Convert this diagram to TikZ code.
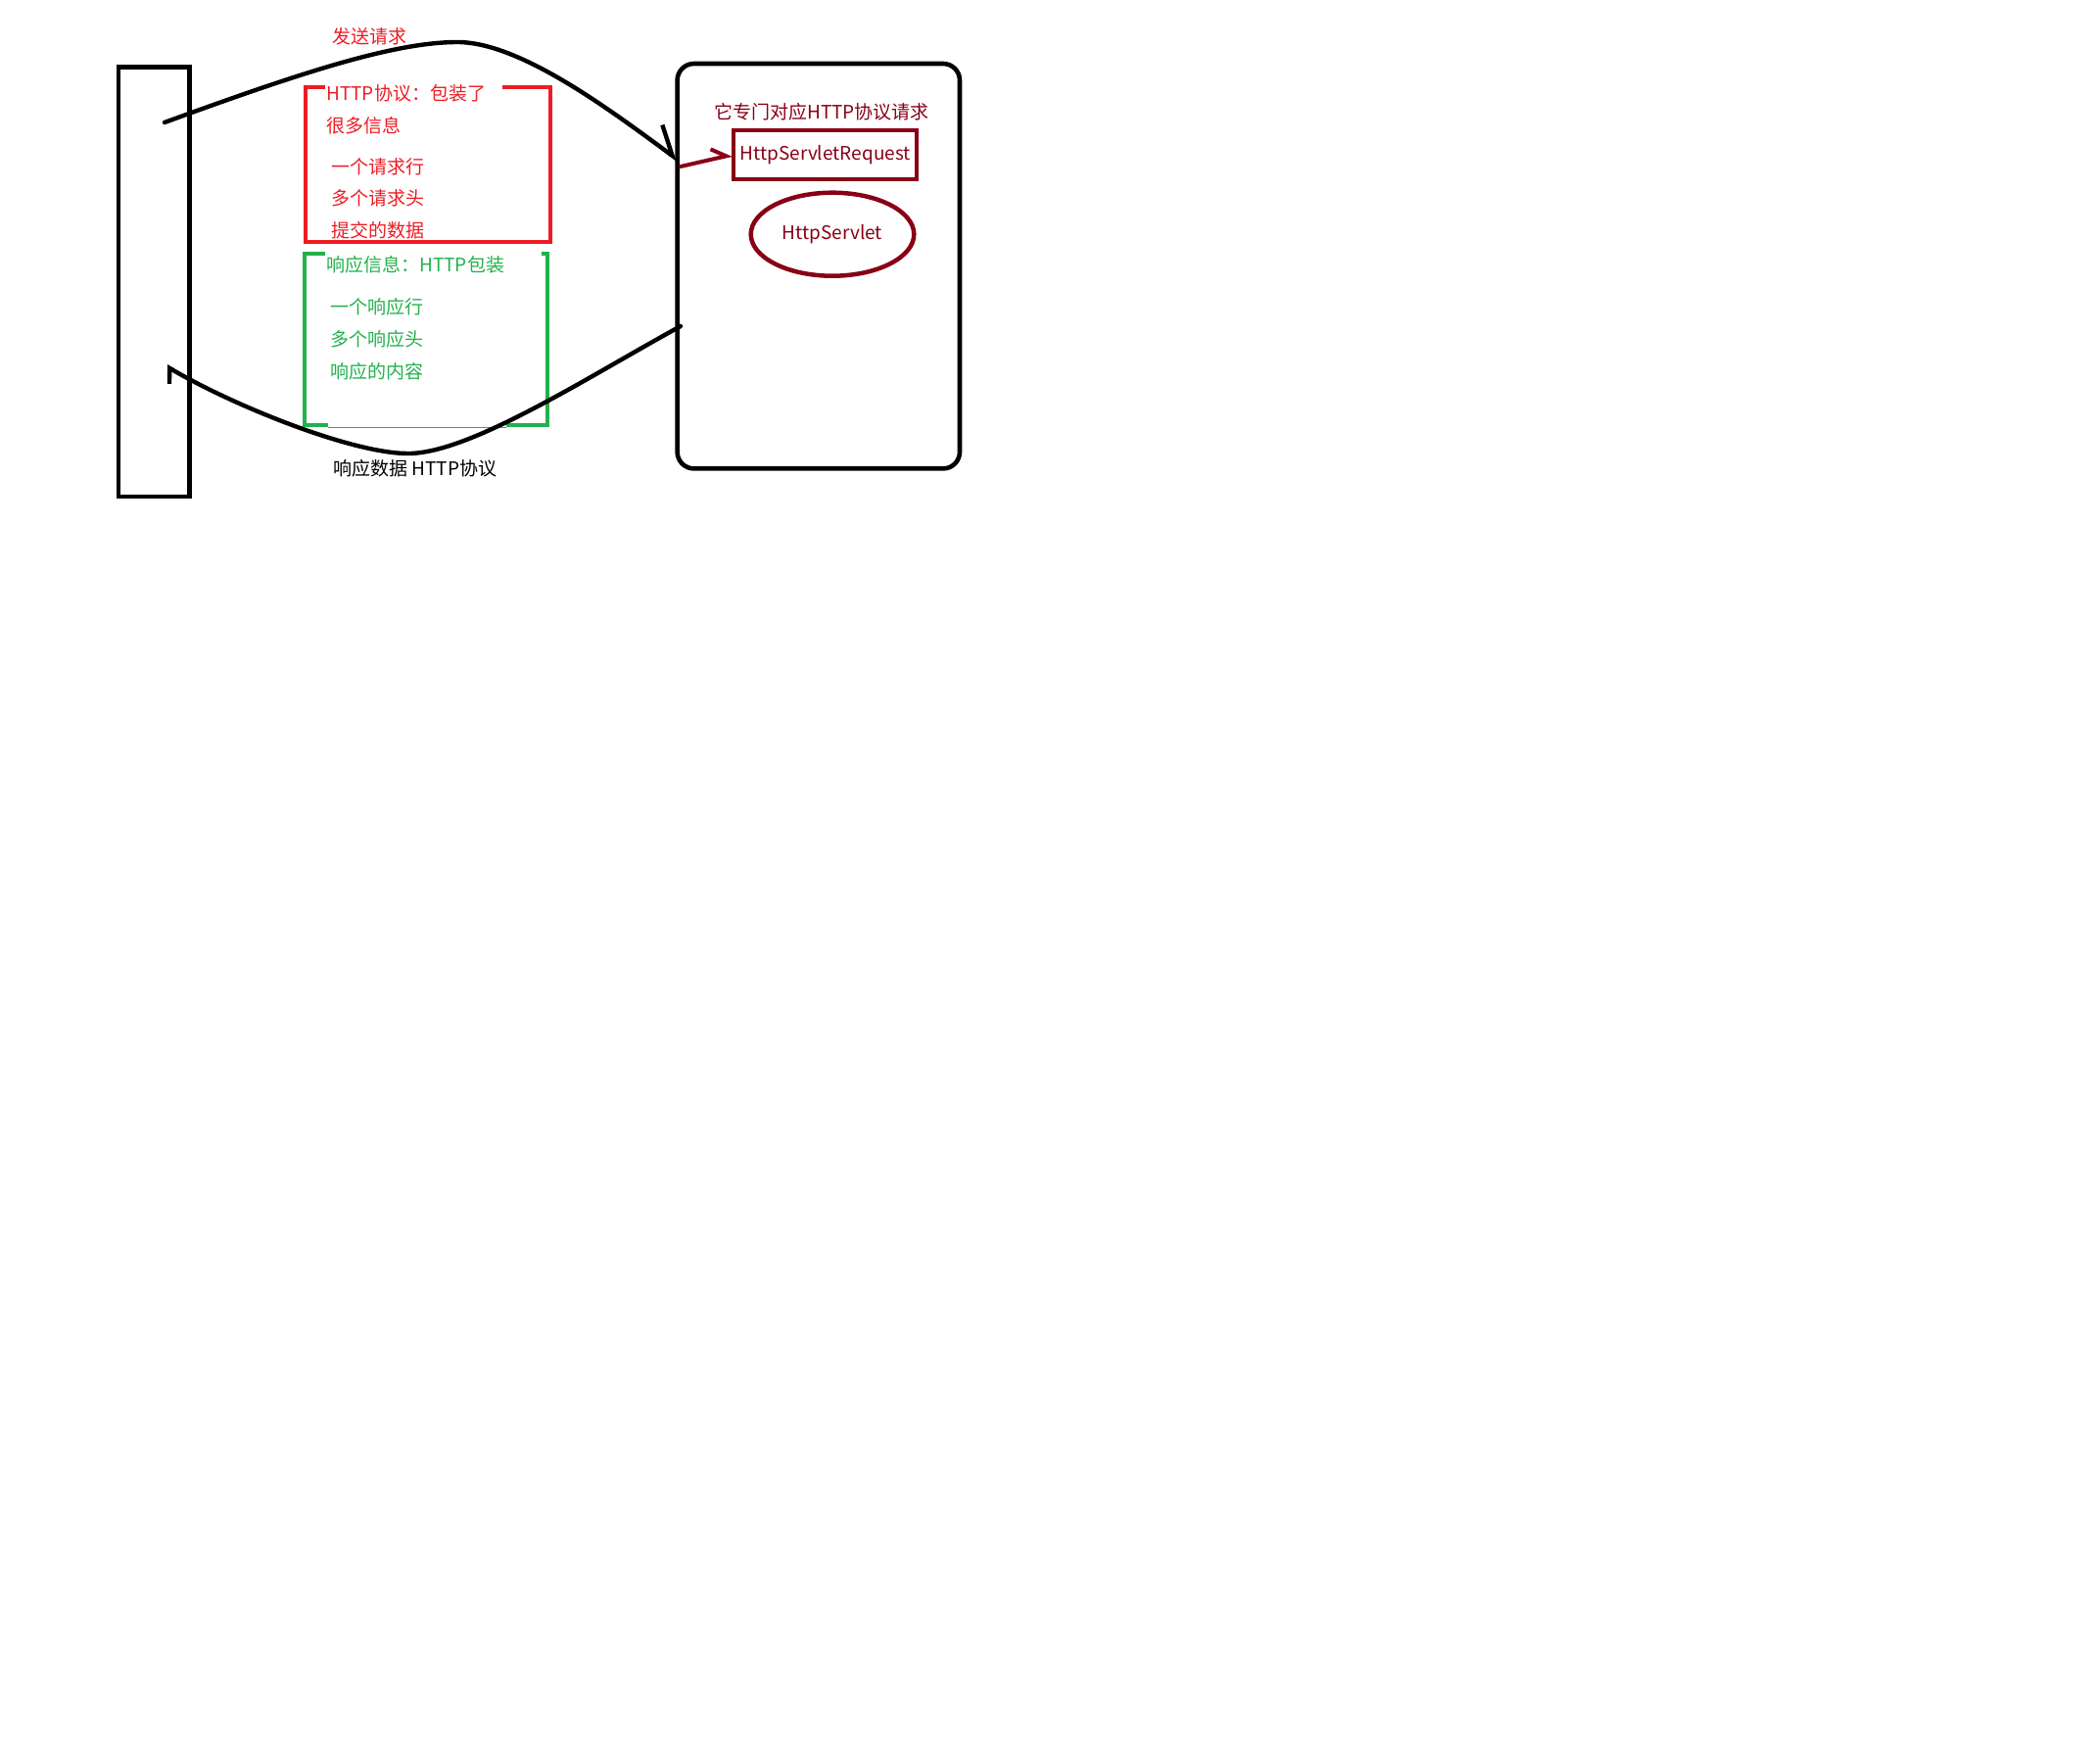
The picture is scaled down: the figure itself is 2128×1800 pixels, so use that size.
\documentclass[tikz,border=0pt]{standalone}
\usepackage{fontspec}
\setmainfont{Noto Sans CJK SC}
\usetikzlibrary{arrows.meta,shapes.geometric}
\definecolor{paintred}{HTML}{ED1C24}
\definecolor{paintgreen}{HTML}{22B14C}
\definecolor{servletred}{HTML}{880015}

\begin{document}
\begin{tikzpicture}
        [x=0.5pt,y=-0.5pt,
         every node/.style={font=\fontsize{9.5}{11}\selectfont,inner sep=0pt},
         reqtext/.style={text=paintred,anchor=west},
         restext/.style={text=paintgreen,anchor=west},
         flow/.style={line width=2.2pt,line cap=round}]
        \useasboundingbox (0,0) rectangle (2128,1800);

        \node[draw,line width=2.2pt,minimum width=36.3pt,minimum height=219.2pt] (client) at (157,287.5) {};
        \node[draw,line width=2.3pt,rounded corners=8.5pt,minimum width=144.2pt,minimum height=206.7pt] (server) at (835.8,271.7) {};

        \draw[paintred,line width=2pt] (331.7,89) -- (312.3,89) -- (312.3,247.3) -- (562.3,247.3) -- (562.3,89) -- (512.7,89);
        \draw[paintgreen,line width=2pt] (335,434) -- (310.7,434) -- (310.7,259.3) -- (331.7,259.3);
        \draw[paintgreen,line width=2pt] (516.7,434) -- (559.3,434) -- (559.3,259.3) -- (552.7,259.3);
        \draw[paintgreen,line width=0.5pt] (335,436) -- (516.7,436);

        \node[text=paintred] (sendlabel) at (377.5,37) {发送请求};
        \node[reqtext] (reqtitle) at (333,95) {HTTP协议：包装了};
        \node[reqtext] (reqinfo) at (333,128.3) {很多信息};
        \foreach \t [count=\i] in {一个请求行,多个请求头,提交的数据}
        {\node[reqtext] (reqline\i) at (338,{137.3+32.7*\i}) {\t};}

        \node[restext] (restitle) at (333,270) {响应信息：HTTP包装};
        \foreach \t [count=\i] in {一个响应行,多个响应头,响应的内容}
        {\node[restext] (resline\i) at (336.7,{280.3+33*\i}) {\t};}
        \node[anchor=west] (reslabel) at (340,478.3) {响应数据 HTTP协议};

        \node[text=servletred] (servernote) at (839,114.3) {它专门对应HTTP协议请求};
        \node[draw=servletred,text=servletred,line width=2pt,minimum width=93.3pt,minimum height=24.7pt] (request) at (842.7,158) {HttpServletRequest};
        \node[ellipse,draw=servletred,text=servletred,line width=2.25pt,minimum width=83.3pt,minimum height=42.5pt] (servlet) at (850,239.2) {HttpServlet};

        \coordinate (reqstart) at (168,125);
        \coordinate (reqtop) at (467,43);
        \coordinate (reqend) at (692,163);
        \coordinate (resstart) at (695,333);
        \coordinate (resbottom) at (416.7,463);
        \coordinate (resend) at (170,374);
        \coordinate (handoff) at (695,170);

        \draw[flow,-{Straight Barb[left,length=13.4pt,width=19.3pt]}] (reqstart) .. controls (300,77) and (400,43) .. (reqtop) .. controls (530,43) and (620,110) .. (reqend);
        \draw[flow,-{Straight Barb[left,length=3.9pt,width=13.9pt]}] (resstart) .. controls (600,385) and (480,463) .. (resbottom) .. controls (360,463) and (240,415) .. (resend);
        \draw[servletred,line width=2pt,line cap=round,-{Straight Barb[left,length=7pt,width=10.4pt]}] (handoff) -- (request.west);
      \end{tikzpicture}
\end{document}
